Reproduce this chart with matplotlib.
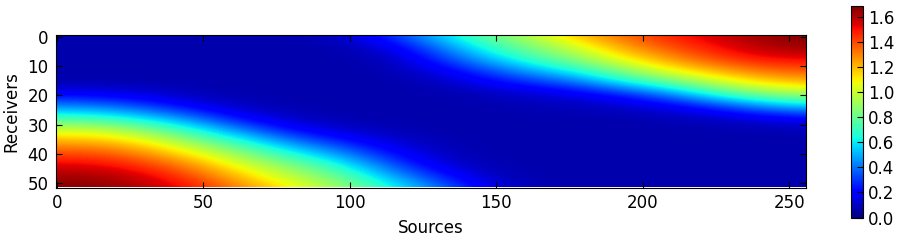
import numpy as np
import matplotlib
matplotlib.use("Agg")
import matplotlib.pyplot as plt

source_step = 16
receiver_step = 4

# one row per receiver (0, 4, ... 52), one value per source (0, 16, ... 256)
r00 = [.07, .07, .07, .07, .07, .07, .10, .26, .52, .76, .94, 1.17, 1.34, 1.47, 1.56, 1.64, 1.68]
r04 = [.07, .07, .07, .07, .07, .07, .07, .13, .36, .63, .82, 1.00, 1.22, 1.38, 1.50, 1.60, 1.64]
r08 = [.07, .07, .07, .07, .07, .07, .07, .08, .24, .48, .68, .85, 1.07, 1.24, 1.40, 1.50, 1.52]
r12 = [.07, .07, .07, .07, .07, .07, .07, .07, .14, .29, .47, .63, .84, 1.06, 1.20, 1.33, 1.37]
r16 = [.07, .07, .07, .07, .07, .07, .07, .07, .08, .16, .26, .37, .58, .76, .97, 1.12, 1.19]
r20 = [.20, .18, .13, .08, .07, .07, .07, .07, .07, .08, .11, .15, .24, .41, .65, .83, .92]
r24 = [.44, .40, .30, .17, .09, .07, .07, .07, .07, .07, .08, .09, .11, .16, .28, .45, .55]
r28 = [.72, .68, .56, .38, .19, .10, .07, .07, .07, .07, .07, .07, .07, .08, .10, .15, .20]
r32 = [1.01, .98, .83, .63, .40, .21, .12, .08, .07, .07, .07, .07, .07, .07, .07, .07, .08]
r36 = [1.22, 1.20, 1.07, .85, .65, .42, .26, .14, .08, .07, .07, .07, .07, .07, .07, .07, .07]
r40 = [1.40, 1.38, 1.25, 1.07, .85, .65, .45, .24, .11, .07, .07, .07, .07, .07, .07, .07, .07]
r44 = [1.54, 1.52, 1.42, 1.24, 1.02, .84, .65, .38, .17, .08, .07, .07, .07, .07, .07, .07, .07]
r48 = [1.63, 1.62, 1.54, 1.38, 1.16, .98, .80, .54, .30, .12, .07, .07, .07, .07, .07, .07, .07]
r52 = [1.68, 1.66, 1.60, 1.48, 1.28, 1.10, .92, .68, .45, .20, .08, .07, .07, .07, .07, .07, .07]
values = [r00, r04, r08, r12, r16, r20, r24, r28, r32, r36, r40, r44, r48, r52]

x_ticks = [0, 50, 100, 150, 200, 250]
y_ticks = [0, 10, 20, 30, 40, 50]
cbar_ticks = [0.0, 0.2, 0.4, 0.6, 0.8, 1.0, 1.2, 1.4, 1.6]

W, H = 909, 243
fig = plt.figure(figsize=(W / 100, H / 100), dpi=100, facecolor="white")
plt.rcParams["font.family"] = "DejaVu Sans"

def box(l, t, r, b):
    return [l / W, 1 - b / H, (r - l) / W, (b - t) / H]

grid = np.array(values)
nr, nc = grid.shape
ax = fig.add_axes(box(55.5, 35.5, 805.5, 187.5))
im = ax.imshow(grid, cmap="jet", vmin=0, vmax=1.68, aspect="auto", origin="upper",
               interpolation="bicubic", interpolation_stage="data",
               extent=[-source_step / 2, (nc - 0.5) * source_step,
                       (nr - 0.5) * receiver_step, -receiver_step / 2])
ax.set_xlim(-0.5, 255.5)
ax.set_ylim(51.5, -0.5)
ax.set_xticks(x_ticks)
ax.set_yticks(y_ticks)
ax.tick_params(direction="in", top=True, right=True, labelsize=12, length=4, width=0.8, pad=5)
ax.set_xlabel("Sources", fontsize=12, labelpad=5)
ax.set_ylabel("Receivers", fontsize=12, labelpad=5)

cax = fig.add_axes(box(850.5, 6.5, 862.5, 217.5))
cb = fig.colorbar(im, cax=cax, ticks=cbar_ticks)
cb.ax.tick_params(direction="in", labelsize=12, length=4, width=0.8, pad=4)
cb.ax.set_yticklabels([f"{t:.1f}" for t in cbar_ticks])

fig.savefig("out.png", dpi=100)
